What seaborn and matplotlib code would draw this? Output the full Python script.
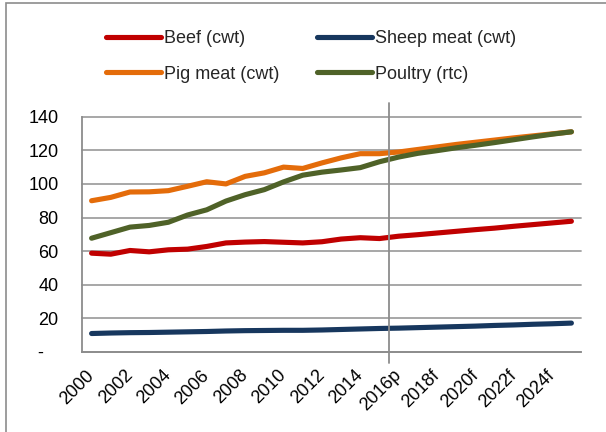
import matplotlib
matplotlib.use("Agg")
import matplotlib.pyplot as plt
import pandas as pd
import seaborn as sns
from matplotlib.patches import Rectangle
from matplotlib.ticker import FixedLocator

# Meat production (thousand tonnes equivalent), actuals, provisional and forecast
years = [str(y) for y in range(2000, 2016)] + ["2016p"] + [f"{y}f" for y in range(2017, 2026)]

beef = [58.8, 58.2, 60.4, 59.6, 60.8, 61.2, 62.8, 64.9, 65.4, 65.7, 65.3, 64.9, 65.6,
        67.2, 68.0, 67.5, 68.9, 69.8, 70.8, 71.8, 72.8, 73.7, 74.8, 75.8, 76.8, 77.8]
sheep = [11.0, 11.3, 11.5, 11.6, 11.8, 12.0, 12.2, 12.5, 12.7, 12.8, 12.9, 12.9, 13.1,
         13.4, 13.7, 14.0, 14.2, 14.5, 14.8, 15.1, 15.4, 15.8, 16.1, 16.5, 16.8, 17.2]
pig = [90.0, 92.0, 95.2, 95.3, 96.0, 98.6, 101.3, 100.0, 104.5, 106.6, 110.0, 109.2, 112.5,
       115.5, 118.0, 118.0, 119.0, 120.5, 122.0, 123.5, 124.8, 126.1, 127.4, 128.6, 129.8, 131.0]
poultry = [67.7, 71.0, 74.3, 75.3, 77.2, 81.5, 84.6, 89.8, 93.6, 96.6, 101.2, 105.2, 107.0,
           108.3, 109.7, 113.2, 116.0, 118.2, 119.8, 121.5, 123.0, 124.6, 126.3, 128.0, 129.6, 131.0]

series_names = ["Beef (cwt)", "Pig meat (cwt)", "Sheep meat (cwt)", "Poultry (rtc)"]
series_values = [beef, pig, sheep, poultry]
colors = {"Beef (cwt)": "#C00000", "Pig meat (cwt)": "#E46C0A",
          "Sheep meat (cwt)": "#17375E", "Poultry (rtc)": "#4F6228"}

y_ticks = [0, 20, 40, 60, 80, 100, 120, 140]
y_tick_labels = ["-   ", "20", "40", "60", "80", "100", "120", "140"]
x_label_every = 2
split_year = "2016p"

rows = []
for name, vals in zip(series_names, series_values):
    for i, (yr, v) in enumerate(zip(years, vals)):
        rows.append({"idx": i, "year": yr, "series": name, "value": v})
df = pd.DataFrame(rows)

sns.set_theme(style="white")
plt.rcParams["font.family"] = ["Liberation Sans", "DejaVu Sans"]
FS = 13

fig = plt.figure(figsize=(6.06, 4.32), dpi=100)
ax = fig.add_axes([82 / 606, 1 - 352 / 432, (581 - 82) / 606, (352 - 116.7) / 432])

# outer chart frame
fig.patches.append(Rectangle((6 / 606, -0.05), 1.2, 1 - 2.5 / 432 + 0.05,
                             transform=fig.transFigure, fill=False,
                             edgecolor="#8c8c8c", linewidth=1.2, zorder=0))

# draw series in the order they should stack (poultry on top of pig meat)
order = ["Sheep meat (cwt)", "Beef (cwt)", "Pig meat (cwt)", "Poultry (rtc)"]
for name in order:
    sns.lineplot(data=df[df["series"] == name], x="idx", y="value", color=colors[name],
                 linewidth=3.7, ax=ax, label=name, legend=False)
for line in ax.get_lines():
    line.set_solid_capstyle("round")
    line.set_solid_joinstyle("round")

n = len(years)
ax.set_xlim(-0.5, n - 0.5)
ax.set_ylim(0, 140)
ax.set_xlabel("")
ax.set_ylabel("")

# y axis
ax.set_yticks(y_ticks)
ax.set_yticklabels(y_tick_labels, fontsize=FS, color="black")
ax.tick_params(axis="y", length=5, width=1.2, color="#8c8c8c", pad=12, direction="out")
ax.yaxis.grid(True, color="#a0a0a0", linewidth=1.3)
for gl in ax.get_ygridlines():
    gl.set_clip_on(False)
ax.set_axisbelow(True)

# x axis: labels at every other category, tick marks between categories
label_pos = list(range(0, n, x_label_every))
ax.set_xticks(label_pos)
ax.set_xticklabels([years[i] for i in label_pos], rotation=45, ha="right", va="center",
                   rotation_mode="anchor", fontsize=FS, color="black")
ax.tick_params(axis="x", which="major", length=0, pad=15)
ax.xaxis.set_minor_locator(FixedLocator([i - 0.5 for i in range(n + 1)]))
ax.tick_params(axis="x", which="minor", length=5, width=1.2, color="#8c8c8c", direction="out")
ax.xaxis.grid(False)

for side in ["top", "right"]:
    ax.spines[side].set_visible(False)
for side in ["left", "bottom"]:
    ax.spines[side].set_color("#8c8c8c")
    ax.spines[side].set_linewidth(1.3)

# divider between actual and projected years
split_x = years.index(split_year) - 0.5
ax.axvline(split_x, ymin=-0.047, ymax=1.058, color="#8c8c8c", linewidth=1.3, clip_on=False)

# legend: two columns above the plot
handles = {l.get_label(): l for l in ax.get_lines()}
leg_order = ["Beef (cwt)", "Pig meat (cwt)", "Sheep meat (cwt)", "Poultry (rtc)"]
fig.legend([handles[k] for k in leg_order], leg_order, loc="upper left",
           bbox_to_anchor=(106 / 606, 1 - 30 / 432), ncol=2, frameon=False,
           fontsize=FS, handlelength=3.05, handletextpad=0.17, columnspacing=2.08,
           labelspacing=1.03, borderpad=0, borderaxespad=0)

fig.savefig("out.png", dpi=100, facecolor="white")
